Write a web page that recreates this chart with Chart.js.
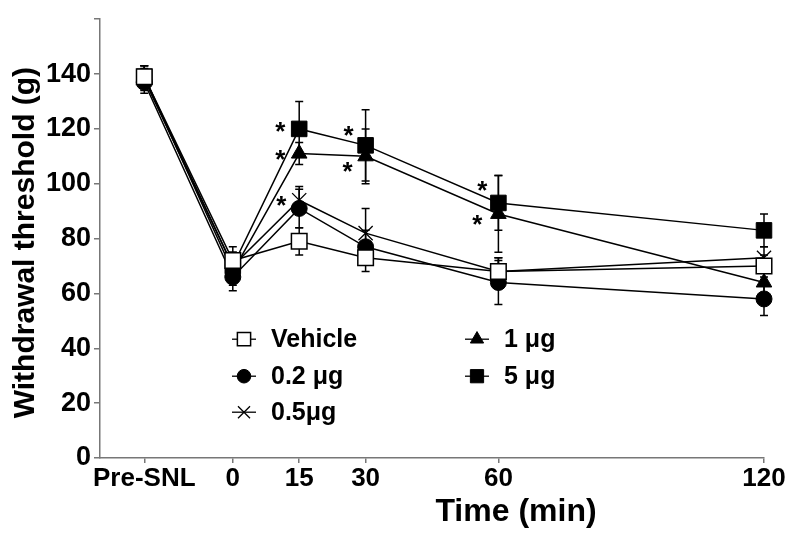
<!DOCTYPE html>
<html lang="en">
<head>
<meta charset="UTF-8">
<title>Withdrawal threshold after SNL</title>
<style>
  html,body{margin:0;background:#fff}
  .wrap{width:800px;height:541px;position:relative}
</style>
</head>
<body>
<div class="wrap"><canvas id="chart"></canvas></div>

<script src="https://cdn.jsdelivr.net/npm/chart.js@4.4.1"></script>
<script>
/* ---------- data ---------- */
// -20 stands for the Pre-SNL baseline, drawn left of t = 0
const times      = [-20, 0, 15, 30, 60, 120];
const tickLabels = ['Pre-SNL', '0', '15', '30', '60', '120'];
const yTicks     = [0, 20, 40, 60, 80, 100, 120, 140];

const seriesNames = ['Vehicle', '0.2 μg', '0.5μg', '1 μg', '5 μg'];

const vehicle  = [139, 72, 79, 73, 68, 70];
const dose02   = [137, 66, 91, 77, 64, 58];
const dose05   = [138, 70, 94, 82, 68, 73];
const dose1    = [139, 68, 111, 110, 89, 64];
const dose5    = [139, 70, 120, 114, 93, 83];

const vehicleErr = [4, 5, 5, 5, 5, 4];
const dose02Err  = [4, 5, 7, 6, 8, 6];
const dose05Err  = [4, 5, 5, 9, 5, 4];
const dose1Err   = [4, 5, 4, 10, 14, 4];
const dose5Err   = [4, 5, 10, 13, 10, 6];

// significance stars: which series, at which time
const starSeries = [4, 3, 1, 4, 3, 4, 3];
const starTimes  = [15, 15, 15, 30, 30, 60, 60];

/* ---------- styling ---------- */
const FONT = 'Liberation Sans, Arial, Helvetica, sans-serif';
const series = [vehicle, dose02, dose05, dose1, dose5];
const errs   = [vehicleErr, dose02Err, dose05Err, dose1Err, dose5Err];
const marker = [
  {style:'rect',     radius:11, fill:'#fff', bw:1.5},
  {style:'circle',   radius:8,  fill:'#000', bw:1},
  {style:'crossRot', radius:10, fill:'#000', bw:1.3},
  {style:'triangle', radius:9,  fill:'#000', bw:1},
  {style:'rect',     radius:11, fill:'#000', bw:1}
];
// offset of each star from its point, pixels
const starOffset = {
  '4-15':[-19,-1], '3-15':[-19,2], '1-15':[-18,-7],
  '4-30':[-17,-14], '3-30':[-18,12],
  '4-60':[-16,-16], '3-60':[-21,7]
};

const datasets = series.map((vals, s) => ({
  label: seriesNames[s],
  data: vals.map((v, i) => ({x: times[i], y: v})),
  borderColor: '#000',
  borderWidth: 1.5,
  pointStyle: marker[s].style,
  pointRadius: marker[s].radius,
  pointBackgroundColor: marker[s].fill,
  pointBorderColor: '#000',
  pointBorderWidth: marker[s].bw,
  tension: 0,
  clip: false
}));

/* ---------- error bars, stars, legend, axis titles ---------- */
const extras = {
  id: 'extras',
  beforeDatasetsDraw(chart){
    const {ctx, scales:{x, y}} = chart;
    ctx.save();
    ctx.strokeStyle = '#000';
    ctx.lineWidth = 1.5;
    errs.forEach((e, s) => {
      series[s].forEach((v, i) => {
        const px = x.getPixelForValue(times[i]);
        const top = y.getPixelForValue(v + e[i]);
        const bot = y.getPixelForValue(v - e[i]);
        ctx.beginPath();
        ctx.moveTo(px, top); ctx.lineTo(px, bot);
        ctx.moveTo(px - 4, top); ctx.lineTo(px + 4, top);
        ctx.moveTo(px - 4, bot); ctx.lineTo(px + 4, bot);
        ctx.stroke();
      });
    });
    ctx.restore();
  },
  afterDraw(chart){
    const {ctx, chartArea:a, scales:{x, y}} = chart;
    ctx.save();
    ctx.fillStyle = '#000';

    // stars
    ctx.font = 'bold 26px ' + FONT;
    ctx.textAlign = 'center';
    ctx.textBaseline = 'middle';
    starSeries.forEach((s, k) => {
      const i = times.indexOf(starTimes[k]);
      const off = starOffset[s + '-' + starTimes[k]];
      ctx.fillText('*', x.getPixelForValue(times[i]) + off[0],
                        y.getPixelForValue(series[s][i]) + off[1] + 5);
    });

    // axis titles
    ctx.font = 'bold 32px ' + FONT;
    ctx.fillText('Time (min)', (a.left + a.right) / 2 + 84, 512);
    ctx.save();
    ctx.translate(26, (a.top + a.bottom) / 2 + 4);
    ctx.rotate(-Math.PI / 2);
    ctx.font = 'bold 30px ' + FONT;
    ctx.fillText('Withdrawal threshold (g)', 0, 0);
    ctx.restore();

    // legend, two columns
    const cols = [a.left + 144, a.left + 377];
    const rows = [a.top + 320, a.top + 357, a.top + 393];
    const slots = [[0,0],[0,1],[0,2],[1,0],[1,1]];
    ctx.font = 'bold 25px ' + FONT;
    ctx.textAlign = 'left';
    slots.forEach(([c, r], s) => {
      const mx = cols[c], my = rows[r];
      ctx.strokeStyle = '#000';
      ctx.lineWidth = 1.3;
      ctx.beginPath();
      ctx.moveTo(mx - 12, my); ctx.lineTo(mx + 12, my);
      ctx.stroke();
      ctx.fillStyle = marker[s].fill;
      ctx.lineWidth = marker[s].bw;
      Chart.helpers.drawPoint(ctx, {
        pointStyle: marker[s].style,
        radius: marker[s].radius * 0.85,
        borderWidth: marker[s].bw,
        rotation: 0
      }, mx, my);
      ctx.fillStyle = '#000';
      ctx.fillText(seriesNames[s], mx + 27, my + 1);
    });
    ctx.restore();
  }
};

/* ---------- chart ---------- */
new Chart(document.getElementById('chart'), {
  type: 'line',
  data: {datasets},
  options: {
    responsive: true,
    maintainAspectRatio: false,
    animation: false,
    layout: {padding: {top: 10, right: 36, left: 0, bottom: 0}},
    plugins: {legend: {display: false}, tooltip: {enabled: false}},
    scales: {
      x: {
        type: 'linear',
        min: -30, max: 120,
        afterBuildTicks: s => { s.ticks = times.map(v => ({value: v})); },
        afterFit: s => { s.height = 83; },
        ticks: {
          autoSkip: false, maxRotation: 0, color: '#000', padding: 0,
          font: {family: FONT, size: 26, weight: 'bold'},
          callback: v => tickLabels[times.indexOf(v)]
        },
        grid: {drawOnChartArea: false, drawTicks: true, tickLength: 5, color: '#777', lineWidth: 1.5},
        border: {color: '#777', width: 1.5}
      },
      y: {
        min: 0, max: 160,
        afterBuildTicks: s => { s.ticks = yTicks.concat([160]).map(v => ({value: v})); },
        afterFit: s => { s.width = 100; },
        ticks: {
          color: '#000', padding: 3,
          font: {family: FONT, size: 27, weight: 'bold'},
          callback: v => yTicks.includes(v) ? String(v) : ''
        },
        grid: {drawOnChartArea: false, drawTicks: true, tickLength: 6, color: '#777', lineWidth: 1.5},
        border: {color: '#777', width: 1.5}
      }
    }
  },
  plugins: [extras]
});
</script>
</body>
</html>
